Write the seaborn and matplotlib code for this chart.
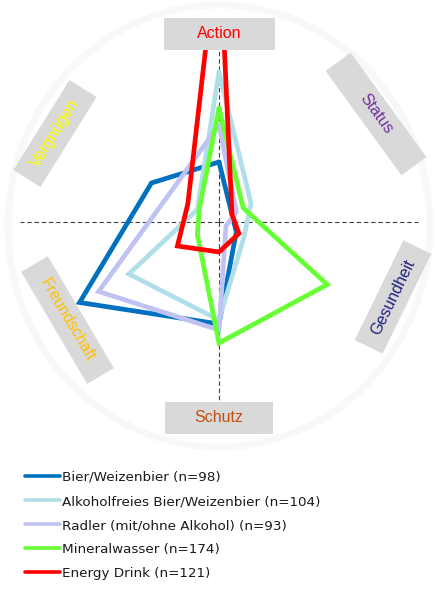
import matplotlib
matplotlib.use("Agg")

import matplotlib.pyplot as plt
import numpy as np
import pandas as pd
import seaborn as sns
from matplotlib.patches import Ellipse, Rectangle

# axes of the radar, clockwise from the top
MOTIVES = ["Action", "Status", "Gesundheit", "Schutz", "Freundschaft", "Vergnügen"]
MOTIVE_COLORS = ["#FF0000", "#7030A0", "#202080", "#C0500F", "#FFC000", "#FFFF00"]

DRINKS = [
    "Bier/Weizenbier (n=98)",
    "Alkoholfreies Bier/Weizenbier (n=104)",
    "Radler (mit/ohne Alkohol) (n=93)",
    "Mineralwasser (n=174)",
    "Energy Drink (n=121)",
]
DRINK_COLORS = ["#0070C0", "#B0DFE8", "#C0C3F2", "#66FF33", "#FF0000"]

# scores per motive (same order as MOTIVES)
BIER = [60, 15, 20, 102, 161, 78]
ALKOHOLFREI = [150, 37, 29, 98, 104, 25]
RADLER = [97, 20, 8, 108, 139, 57]
MINERALWASSER = [114, 28, 125, 121, 25, 23]
ENERGY_DRINK = [290, 15, 23, 30, 48, 36]

R_MAX = 204  # scale limit, Energy Drink "Action" runs past it

W_PX, H_PX = 436, 595
CENTER = (219, 222)  # px from top-left

# label boxes: centre x, centre y (px from top), width, height, rotation
LABEL_BOXES = [
    (219.5, 34, 111, 32, 0),
    (376, 114, 129, 31, -54),
    (393, 297, 111, 31, 64),
    (219, 418, 108, 32, 0),
    (67.5, 320, 130, 31, -59.5),
    (55, 133.5, 106, 32, 58),
]


def build_long_frame() -> pd.DataFrame:
    n = len(MOTIVES)
    angles = np.linspace(0, 2 * np.pi, n, endpoint=False)
    rows = []
    for drink, vals in zip(DRINKS, [BIER, ALKOHOLFREI, RADLER, MINERALWASSER, ENERGY_DRINK]):
        for i in range(n + 1):
            k = i % n
            theta = angles[k] if i < n else 2 * np.pi
            rows.append({"drink": drink, "theta": theta, "score": vals[k]})
    return pd.DataFrame(rows)


def main() -> None:
    sns.set_style("white")
    plt.rcParams["font.family"] = ["DejaVu Sans"]

    fig = plt.figure(figsize=(W_PX / 100, H_PX / 100), dpi=100)

    # background layer in pixel units: faint ring
    bg = fig.add_axes([0, 0, 1, 1], zorder=0)
    bg.set_xlim(0, W_PX)
    bg.set_ylim(0, H_PX)
    bg.axis("off")
    bg.add_patch(Ellipse((219, H_PX - 226), 422, 442, fill=False, ec="#F8F8F8", lw=5))

    cx, cy = CENTER
    ax = fig.add_axes(
        [(cx - R_MAX) / W_PX, (H_PX - cy - R_MAX) / H_PX, 2 * R_MAX / W_PX, 2 * R_MAX / H_PX],
        projection="polar",
        zorder=1,
    )
    ax.set_theta_zero_location("N")
    ax.set_theta_direction(-1)

    df = build_long_frame()
    sns.lineplot(
        data=df,
        x="theta",
        y="score",
        hue="drink",
        hue_order=DRINKS,
        palette=dict(zip(DRINKS, DRINK_COLORS)),
        sort=False,
        estimator=None,
        linewidth=3.4,
        solid_joinstyle="miter",
        ax=ax,
    )

    # dashed cross through the centre
    for t in [0, np.pi / 2, np.pi, 3 * np.pi / 2]:
        ax.plot([t, t], [0, 199], ls=(0, (4, 2.5)), lw=0.8, color="#404040", zorder=1)

    ax.set_ylim(0, R_MAX)
    ax.grid(False)
    ax.set_xticks([])
    ax.set_yticks([])
    ax.set_xlabel("")
    ax.set_ylabel("")
    ax.spines["polar"].set_visible(False)
    ax.patch.set_alpha(0)

    sns.move_legend(
        ax,
        "upper left",
        bbox_to_anchor=(25 / W_PX, 1 - 471 / H_PX),
        bbox_transform=fig.transFigure,
        frameon=False,
        title=None,
        fontsize=9.7,
        handlelength=2.6,
        handletextpad=0.15,
        labelspacing=0.82,
        borderpad=0,
        borderaxespad=0,
    )
    leg = ax.get_legend()
    for line in leg.get_lines():
        line.set_linewidth(2.6)
    for txt in leg.get_texts():
        txt.set_color("#1A1A1A")

    # label boxes on top of the lines
    fg = fig.add_axes([0, 0, 1, 1], zorder=2)
    fg.set_xlim(0, W_PX)
    fg.set_ylim(0, H_PX)
    fg.axis("off")
    fg.patch.set_alpha(0)
    for label, color, (bx, by, bw, bh, rot) in zip(MOTIVES, MOTIVE_COLORS, LABEL_BOXES):
        y_up = H_PX - by
        fg.add_patch(
            Rectangle(
                (bx - bw / 2, y_up - bh / 2), bw, bh,
                angle=rot, rotation_point="center", fc="#D9D9D9", ec="none",
            )
        )
        fg.text(
            bx, y_up, label, rotation=rot, rotation_mode="anchor",
            ha="center", va="center", color=color,
            fontsize=11.5, family=["Liberation Sans", "DejaVu Sans"],
        )

    fig.savefig("out.png", dpi=100)
    plt.close(fig)


if __name__ == "__main__":
    main()
